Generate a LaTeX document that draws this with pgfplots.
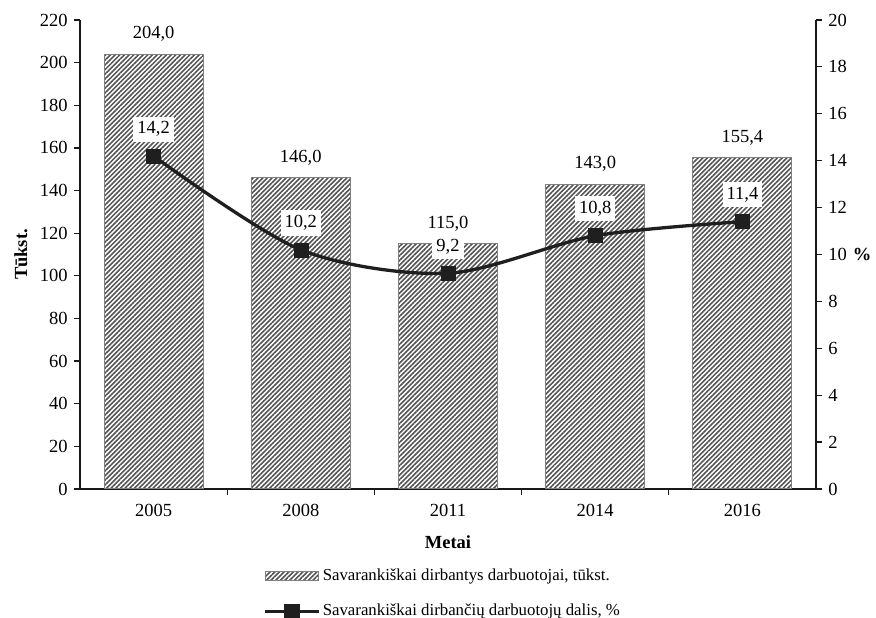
\documentclass[border=0pt]{standalone}
\usepackage{fontspec}
\setmainfont{Liberation Serif}
\usepackage{pgfplots}
\pgfplotsset{compat=1.18}
\usetikzlibrary{patterns.meta}

\tikzset{hatch/.style={pattern={Lines[angle=45,distance=3.3pt,line width=1.55pt]}, pattern color=black!68}}
\newcommand{\chartfont}{\fontsize{18.5}{22.2}\selectfont}
\newcommand{\legendfont}{\fontsize{16.8}{20.2}\selectfont}

\pgfplotsset{
  base/.style={
    width=736pt, height=469pt, scale only axis,
    xmin=-0.5, xmax=4.5,
    /pgf/number format/assume math mode=true,
    tick align=outside, major tick length=6pt,
    every tick/.style={black!90, line width=1.2pt},
    axis line style={line width=1.5pt, black!90},
    tick label style={font=\chartfont},
    label style={font=\chartfont\bfseries},
  },
}

\begin{document}
\chartfont
\begin{tikzpicture}
% employed persons, thousands (left axis)
\begin{axis}[base,
  ymin=0, ymax=220, ytick={0,20,...,220},
  axis x line*=bottom, axis y line*=left,
  xtick={0.5,1.5,2.5,3.5}, xticklabels={},
  extra x ticks={0,1,2,3,4},
  extra x tick labels={2005,2008,2011,2014,2016},
  extra x tick style={tick style={draw=none}},
  xticklabel style={yshift=-3pt},
  xlabel={Metai}, ylabel={Tūkst.},
  ybar, bar width=99pt,
  nodes near coords={\pgfmathprintnumber[fixed,fixed zerofill,precision=1,use comma]{\pgfplotspointmeta}},
  every node near coord/.append style={font=\chartfont, anchor=south, yshift=6pt},
]
\addplot[hatch, draw=black!50, line width=1pt] coordinates {(0,204.0) (1,146.0) (2,115.0) (3,143.0) (4,155.4)};
\coordinate (bl) at (rel axis cs:0,0);
\coordinate (tr) at (rel axis cs:1,1);
\end{axis}
% share of self-employed, % (right axis)
\begin{axis}[base,
  ymin=0, ymax=20, ytick={0,2,...,20},
  axis x line=none, axis y line*=right,
  ylabel={\%},
  ylabel style={at={(rel axis cs:1,0.5)}, anchor=center, rotate=-90, xshift=46pt},
  legend style={at={(0.493,-0.165)}, anchor=north, draw=none, fill=none,
    font=\legendfont, row sep=17pt, inner sep=0pt},
  legend cell align=left,
]
\addlegendimage{legend image code/.code={\draw[hatch, draw=black!50, line width=0.8pt] (0pt,-4.5pt) rectangle (53pt,4.5pt);}}
\addlegendentry{Savarankiškai dirbantys darbuotojai, tūkst.}
\addplot[smooth, line width=3.3pt, color=black!88, mark=square*, mark size=7pt,
  mark options={line width=0.5pt},
  legend image code/.code={\draw[line width=3pt, black!88] (0pt,0pt) -- (54pt,0pt);
    \fill[black!88] (20.5pt,-6pt) rectangle (33.5pt,6pt);},
  nodes near coords={\pgfmathprintnumber[fixed,fixed zerofill,precision=1,use comma]{\pgfplotspointmeta}},
  every node near coord/.append style={font=\chartfont, text=black, anchor=south,
    yshift=14pt, fill=white, inner xsep=4pt, inner ysep=5pt},
] coordinates {(0,14.2) (1,10.2) (2,9.2) (3,10.8) (4,11.4)};
\addlegendentry{Savarankiškai dirbančių darbuotojų dalis, \%}
\end{axis}
\pgfresetboundingbox
\useasboundingbox ([xshift=-80pt,yshift=-129pt]bl) rectangle ([xshift=60pt,yshift=20pt]tr);
\end{tikzpicture}
\end{document}
